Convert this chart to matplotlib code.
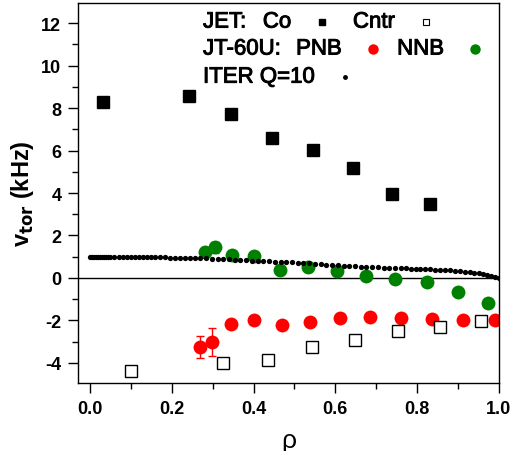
import matplotlib
matplotlib.use("Agg")
import matplotlib.pyplot as plt
import matplotlib.patheffects as pe
from matplotlib.ticker import MultipleLocator

plt.rcParams['font.family'] = ['Liberation Sans', 'DejaVu Sans']

# JET co-rotation (NBI co)
jet_co_rho = [0.032, 0.243, 0.345, 0.445, 0.545, 0.643, 0.738, 0.831]
jet_co_v = [8.28, 8.56, 7.71, 6.59, 6.02, 5.16, 3.95, 3.48]

# JET counter
jet_cntr_rho = [0.100, 0.325, 0.435, 0.543, 0.648, 0.753, 0.855, 0.955]
jet_cntr_v = [-4.38, -4.00, -3.86, -3.25, -2.92, -2.49, -2.31, -2.02]

# JT-60U PNB
pnb_rho = [0.269, 0.299, 0.345, 0.400, 0.469, 0.538, 0.611, 0.685, 0.760, 0.836, 0.913, 0.990]
pnb_v = [-3.25, -3.01, -2.16, -1.98, -2.21, -2.08, -1.89, -1.84, -1.89, -1.93, -1.98, -1.98]
pnb_err = [0.50, 0.65, 0, 0, 0, 0, 0, 0, 0, 0, 0, 0]

# JT-60U NNB
nnb_rho = [0.281, 0.306, 0.348, 0.400, 0.465, 0.534, 0.603, 0.675, 0.745, 0.823, 0.900, 0.973]
nnb_v = [1.21, 1.44, 1.07, 1.04, 0.39, 0.51, 0.33, 0.10, -0.07, -0.17, -0.67, -1.17]
nnb_err = [0, 0.25, 0, 0, 0, 0, 0, 0, 0, 0, 0, 0]

# ITER Q=10 prediction
iter_rho = [0.000, 0.005, 0.010, 0.015, 0.020, 0.025, 0.030, 0.035, 0.040, 0.045, 0.050,
            0.060, 0.070, 0.080, 0.090, 0.100, 0.110, 0.120, 0.130, 0.140, 0.150, 0.160,
            0.172, 0.184, 0.196, 0.208, 0.220, 0.232, 0.244, 0.256,
            0.270, 0.284, 0.298, 0.312, 0.326, 0.340, 0.354, 0.368, 0.382, 0.396,
            0.410, 0.424, 0.438, 0.452, 0.466, 0.480, 0.494, 0.508, 0.522, 0.536,
            0.550, 0.564, 0.578, 0.592, 0.606, 0.620, 0.634, 0.648, 0.662, 0.676,
            0.690, 0.704, 0.718, 0.732, 0.746, 0.760,
            0.772, 0.784, 0.796, 0.808, 0.820, 0.832, 0.844, 0.856, 0.868, 0.880,
            0.892, 0.904, 0.916, 0.928, 0.940,
            0.950, 0.960, 0.970, 0.980, 0.990, 1.000]
iter_v = [1.00, 1.00, 1.00, 1.00, 1.00, 1.00, 1.00, 0.99, 0.99, 0.99, 0.99,
          0.99, 0.99, 0.99, 0.98, 0.98, 0.98, 0.98, 0.98, 0.97, 0.97, 0.97,
          0.97, 0.97, 0.96, 0.96, 0.95, 0.95, 0.94, 0.94,
          0.93, 0.92, 0.91, 0.89, 0.88, 0.87, 0.85, 0.84, 0.83, 0.82,
          0.81, 0.79, 0.78, 0.77, 0.76, 0.74, 0.73, 0.71, 0.70, 0.69,
          0.67, 0.65, 0.63, 0.61, 0.59, 0.58, 0.56, 0.54, 0.53, 0.52,
          0.51, 0.50, 0.49, 0.48, 0.47, 0.46,
          0.45, 0.44, 0.43, 0.42, 0.41, 0.40, 0.39, 0.38, 0.37, 0.36,
          0.34, 0.32, 0.30, 0.28, 0.25,
          0.21, 0.18, 0.14, 0.10, 0.05, 0.00]

RED = '#ff0000'
GREEN = '#008000'

fig = plt.figure(figsize=(5.2, 4.52), dpi=100)
ax = fig.add_axes([0.15, 0.1504, 0.8096, 0.8406])

ax.axhline(0, color='black', lw=1.0, zorder=1)

ax.plot(iter_rho, iter_v, 'o', color='black', ms=3.8, mec='none', zorder=3)
ax.plot(jet_co_rho, jet_co_v, 's', color='black', ms=8, mec='black', zorder=4)
ax.plot(jet_cntr_rho, jet_cntr_v, 's', mfc='white', mec='black', mew=1.0, ms=8, zorder=4)
ax.errorbar(nnb_rho, nnb_v, yerr=nnb_err, fmt='o', color=GREEN, ms=10, mec='none',
            ecolor=GREEN, elinewidth=1, capsize=3, zorder=2)
ax.errorbar(pnb_rho, pnb_v, yerr=pnb_err, fmt='o', color=RED, ms=10, mec='none',
            ecolor=RED, elinewidth=1, capsize=3, zorder=2)

ax.set_xlim(-0.029, 1.0)
ax.set_ylim(-4.95, 12.95)
ax.xaxis.set_major_locator(MultipleLocator(0.2))
ax.xaxis.set_minor_locator(MultipleLocator(0.1))
ax.yaxis.set_major_locator(MultipleLocator(2))
ax.yaxis.set_minor_locator(MultipleLocator(1))
ax.tick_params(which='major', direction='out', length=7, width=1, labelsize=13, pad=5)
ax.tick_params(which='minor', direction='out', length=4, width=1)
ax.xaxis.set_major_formatter(plt.FuncFormatter(lambda v, p: f"{v:.1f}"))
ax.yaxis.set_major_formatter(plt.FuncFormatter(lambda v, p: f"{v:.0f}"))
for lab in ax.get_xticklabels() + ax.get_yticklabels():
    lab.set_fontweight('bold')
for s in ax.spines.values():
    s.set_linewidth(1.0)

ax.set_xlabel('ρ', fontsize=19, labelpad=8)
ax.set_ylabel(r'v$_{\mathbf{tor}}$ (kHz)', fontsize=17, fontweight='bold', labelpad=4)

# text legend (slightly thickened strokes, like the original)
thick = [pe.withStroke(linewidth=0.7, foreground='black')]
tk = dict(transform=ax.transAxes, fontsize=16, va='center', ha='left', path_effects=thick)
ax.text(0.297, 0.950, 'JET:', **tk)
ax.text(0.439, 0.950, 'Co', **tk)
ax.plot([0.580], [0.950], 's', color='black', ms=4.5, transform=ax.transAxes)
ax.text(0.653, 0.950, 'Cntr', **tk)
ax.plot([0.827], [0.950], 's', mfc='white', mec='black', mew=0.8, ms=4.5, transform=ax.transAxes)
ax.text(0.297, 0.879, 'JT-60U:', **tk)
ax.text(0.518, 0.879, 'PNB', **tk)
ax.plot([0.701], [0.879], 'o', color=RED, mec='none', ms=7.5, transform=ax.transAxes)
ax.text(0.758, 0.879, 'NNB', **tk)
ax.plot([0.943], [0.879], 'o', color=GREEN, mec='none', ms=7.5, transform=ax.transAxes)
ax.text(0.297, 0.805, 'ITER Q=10', **tk)
ax.plot([0.634], [0.805], 'o', color='black', mec='none', ms=3.5, transform=ax.transAxes)

fig.savefig('out.png', dpi=100)
